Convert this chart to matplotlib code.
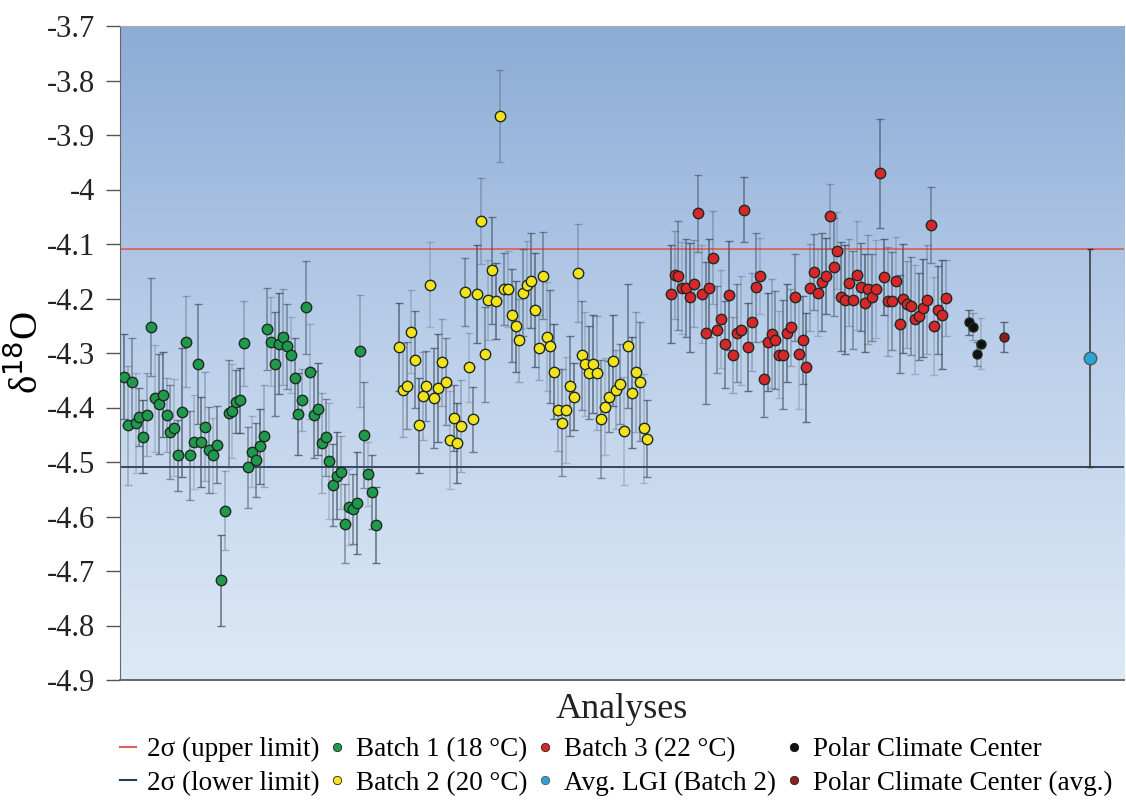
import matplotlib
matplotlib.use("Agg")
import matplotlib.pyplot as plt
import matplotlib.colors as mcolors
from matplotlib.lines import Line2D
import numpy as np

# delta 18O values (per analysis, left to right)
batch1 = [-4.344, -4.433, -4.354, -4.429, -4.417, -4.454, -4.413, -4.252, -4.383, -4.394,
          -4.377, -4.413, -4.445, -4.437, -4.488, -4.409, -4.279, -4.488, -4.463, -4.321,
          -4.463, -4.435, -4.478, -4.488, -4.468, -4.717, -4.589, -4.411, -4.406, -4.389,
          -4.387, -4.282, -4.510, -4.481,
          -4.497, -4.471, -4.452, -4.256, -4.279, -4.320, -4.283, -4.271, -4.288, -4.304,
          -4.346, -4.412, -4.387, -4.216, -4.334, -4.413, -4.403, -4.465, -4.455, -4.498,
          -4.542, -4.525, -4.519, -4.613, -4.583, -4.586, -4.575, -4.297, -4.450, -4.522,
          -4.555, -4.616]
batch1_err = [0.078, 0.109, 0.082, 0.092, 0.053, 0.067, 0.076, 0.09, 0.098, 0.092,
              0.078, 0.068, 0.086, 0.089, 0.065, 0.119, 0.084, 0.082, 0.086, 0.11,
              0.082, 0.1, 0.079, 0.068, 0.07, 0.083, 0.072, 0.098, 0.086, 0.058,
              0.059, 0.078, 0.075, 0.065,
              0.068, 0.069, 0.094, 0.075, 0.082, 0.095, 0.093, 0.088, 0.078, 0.07,
              0.074, 0.075, 0.057, 0.085, 0.087, 0.08, 0.085, 0.091, 0.07, 0.107,
              0.075, 0.08, 0.067, 0.073, 0.07, 0.064, 0.094, 0.103, 0.097, 0.059,
              0.068, 0.07]

batch2 = [-4.289, -4.368, -4.360, -4.261, -4.312, -4.433, -4.379, -4.361, -4.175, -4.383,
          -4.364, -4.317, -4.353, -4.460, -4.419, -4.465, -4.434, -4.188, -4.326, -4.422,
          -4.192, -4.057, -4.302, -4.203, -4.148, -4.205, -3.865, -4.183, -4.183, -4.231,
          -4.251, -4.277,
          -4.189, -4.175, -4.167, -4.221, -4.290, -4.158, -4.270, -4.288, -4.334, -4.405,
          -4.428, -4.405, -4.360, -4.380, -4.153, -4.304, -4.320, -4.336, -4.321, -4.337,
          -4.421, -4.399, -4.380, -4.314, -4.367, -4.357, -4.443, -4.287, -4.373, -4.335,
          -4.353, -4.438, -4.457]
batch2_err = [0.08, 0.086, 0.08, 0.076, 0.089, 0.087, 0.08, 0.064, 0.078, 0.092,
              0.099, 0.08, 0.08, 0.09, 0.06, 0.073, 0.085, 0.062, 0.063, 0.06,
              0.09, 0.079, 0.087, 0.073, 0.098, 0.07, 0.084, 0.066, 0.07, 0.086,
              0.084, 0.076,
              0.08, 0.08, 0.087, 0.104, 0.06, 0.08, 0.1, 0.104, 0.088, 0.075,
              0.098, 0.097, 0.092, 0.062, 0.09, 0.1, 0.095, 0.085, 0.09, 0.105,
              0.108, 0.089, 0.065, 0.084, 0.073, 0.073, 0.099, 0.113, 0.102, 0.11,
              0.109, 0.1, 0.071]

batch3 = [-4.192, -4.157, -4.158, -4.181, -4.181, -4.198, -4.173, -4.044, -4.192, -4.263,
          -4.180, -4.125, -4.257, -4.238, -4.284, -4.194, -4.304, -4.263, -4.258, -4.037,
          -4.289, -4.243, -4.179, -4.159, -4.348, -4.280, -4.265, -4.276, -4.303, -4.303,
          -4.263, -4.253, -4.198, -4.302, -4.276,
          -4.326, -4.180, -4.151, -4.189, -4.170, -4.159, -4.049, -4.143, -4.112, -4.197,
          -4.202, -4.171, -4.202, -4.157, -4.179, -4.209, -4.183, -4.198, -4.182, -3.970,
          -4.161, -4.205, -4.205, -4.168, -4.247, -4.200, -4.211, -4.213, -4.238, -4.233,
          -4.217, -4.202, -4.065, -4.250, -4.221, -4.230, -4.199]
batch3_err = [0.09, 0.08, 0.1, 0.085, 0.09, 0.1, 0.08, 0.07, 0.09, 0.13,
              0.09, 0.085, 0.08, 0.09, 0.08, 0.1, 0.07, 0.09, 0.1, 0.06,
              0.08, 0.09, 0.1, 0.07, 0.07, 0.09, 0.1, 0.09, 0.08, 0.1,
              0.09, 0.07, 0.08, 0.1, 0.08,
              0.1, 0.08, 0.07, 0.08, 0.09, 0.07, 0.06, 0.09, 0.07, 0.1,
              0.1, 0.08, 0.09, 0.1, 0.08, 0.09, 0.1, 0.08, 0.09, 0.1,
              0.07, 0.1, 0.09, 0.08, 0.09, 0.1, 0.08, 0.09, 0.1, 0.08,
              0.09, 0.1, 0.07, 0.09, 0.08, 0.1, 0.07]

pcc = [-4.244, -4.252, -4.302, -4.283]
pcc_err = [0.023, 0.025, 0.022, 0.047]
pcc_avg = -4.271
pcc_avg_err = 0.027
lgi_avg = -4.31
lgi_err = 0.2

upper_2s = -4.11
lower_2s = -4.51

yticks = [-3.7, -3.8, -3.9, -4.0, -4.1, -4.2, -4.3, -4.4, -4.5, -4.6, -4.7, -4.8, -4.9]
ytick_labels = ["-3.7", "-3.8", "-3.9", "-4", "-4.1", "-4.2", "-4.3", "-4.4", "-4.5",
                "-4.6", "-4.7", "-4.8", "-4.9"]

# analysis positions (index along the run, gaps between batches)
x1 = np.arange(len(batch1))
x2 = np.arange(len(batch2)) + 71
x3 = np.arange(len(batch3)) + 141
x_pcc = np.arange(len(pcc)) + 218
x_pcc_avg = 227
x_lgi = 249

plt.rcParams['font.family'] = ['Liberation Serif', 'DejaVu Serif']

fig = plt.figure(figsize=(11.26, 8), dpi=100)
ax = fig.add_axes([0.1066, 0.15, 0.892, 0.8175])

# background gradient
grad = mcolors.LinearSegmentedColormap.from_list("bg", ["#dde9f6", "#bcd0ea", "#8cabd6"])
ax.imshow(np.linspace(0, 1, 256).reshape(-1, 1), cmap=grad, origin="lower",
          extent=[0, 1, 0, 1], transform=ax.transAxes, aspect="auto", zorder=0)

alphas = [0.75, 0.35, 0.55, 0.25, 0.65]

def draw_series(xs, ys, errs, color, ms=7.5):
    for i, (xx, yy, ee) in enumerate(zip(xs, ys, errs)):
        ax.errorbar(xx, yy, yerr=ee, fmt="none", ecolor="#3a4a5a",
                    alpha=alphas[i % len(alphas)], elinewidth=1.1, capsize=3,
                    capthick=1.0, zorder=2)
    ax.plot(xs, ys, "o", color=color, mec="#1e2a22", mew=1.0, ms=ms, zorder=3)

ax.axhline(upper_2s, color="#e06060", lw=1.3, zorder=1.5)
ax.axhline(lower_2s, color="#2b3a55", lw=1.3, zorder=1.5)

draw_series(x1, batch1, batch1_err, "#1f9a4c")
draw_series(x2, batch2, batch2_err, "#f3e31a")
draw_series(x3, batch3, batch3_err, "#d8262a")
draw_series(x_pcc, pcc, pcc_err, "#111111", ms=6.5)
draw_series([x_pcc_avg], [pcc_avg], [pcc_avg_err], "#8e1e1e", ms=6.5)

ax.errorbar(x_lgi, lgi_avg, yerr=lgi_err, fmt="none", ecolor="#333333",
            elinewidth=1.1, capsize=2, zorder=2)
ax.plot(x_lgi, lgi_avg, "o", color="#2aa3dc", mec="#555555", mew=1.0, ms=9, zorder=3)

ax.set_xlim(-1.0, 258.0)
ax.set_ylim(-4.9, -3.7)
ax.set_yticks(yticks)
ax.set_yticklabels(ytick_labels)
ax.set_xticks([])
ax.tick_params(axis="y", direction="out", length=10, width=1.0, color="#555555",
               labelsize=22, labelcolor="#222222", pad=8)

ax.spines["right"].set_visible(False)
ax.spines["top"].set_color("#a8a8a8")
ax.spines["left"].set_color("#666666")
ax.spines["bottom"].set_color("#666666")
ax.spines["bottom"].set_linewidth(1.4)

ax.set_ylabel("δ$^{18}$O", fontsize=28, labelpad=0)
ax.set_xlabel("Analyses", fontsize=26, labelpad=9, color="#222222")

handles = [
    Line2D([], [], color="#e06060", lw=1.5),
    Line2D([], [], color="#2b3a55", lw=1.5),
    Line2D([], [], ls="none", marker="o", color="#1f9a4c", mec="#1e2a22", mew=0.6, ms=6),
    Line2D([], [], ls="none", marker="o", color="#f3e31a", mec="#1e2a22", mew=0.6, ms=6),
    Line2D([], [], ls="none", marker="o", color="#d8262a", mec="#1e2a22", mew=0.6, ms=6),
    Line2D([], [], ls="none", marker="o", color="#2aa3dc", mec="#555555", mew=0.6, ms=6),
    Line2D([], [], ls="none", marker="o", color="#111111", mec="#111111", mew=0.6, ms=6),
    Line2D([], [], ls="none", marker="o", color="#8e1e1e", mec="#1e2a22", mew=0.6, ms=6),
]
labels = ["2σ (upper limit)", "2σ (lower limit)", "Batch 1 (18 °C)", "Batch 2 (20 °C)",
          "Batch 3 (22 °C)", "Avg. LGI (Batch 2)", "Polar Climate Center",
          "Polar Climate Center (avg.)"]
fig.legend(handles, labels, ncol=4, loc="center", bbox_to_anchor=(0.547, 0.042),
           frameon=False, fontsize=19.5, handlelength=0.6, handletextpad=0.4,
           columnspacing=0.35, labelspacing=0.32, borderaxespad=0, borderpad=0)

fig.savefig("out.png", dpi=100)
